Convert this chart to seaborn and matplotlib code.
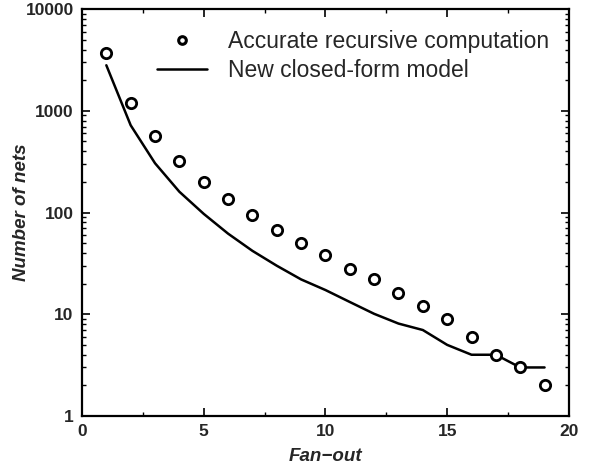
import matplotlib
matplotlib.use("Agg")
import matplotlib.pyplot as plt
import seaborn as sns
import numpy as np
import pandas as pd
from matplotlib.ticker import MultipleLocator, LogLocator, NullFormatter, FixedLocator, FixedFormatter
from matplotlib.lines import Line2D

fanout = [1, 2, 3, 4, 5, 6, 7, 8, 9, 10, 11, 12, 13, 14, 15, 16, 17, 18, 19]
accurate = [3700, 1200, 565, 320, 200, 135, 94, 68, 50, 38, 28, 22, 16, 12, 9, 6, 4, 3, 2]
model = [2800, 720, 305, 160, 97, 62, 42, 30, 22, 17.3, 13.2, 10.1, 8.1, 7, 5, 4, 4, 3, 3]
yticks = [1, 10, 100, 1000, 10000]
ytick_labels = ["1", "10", "100", "1000", "10000"]
xticks = [0, 5, 10, 15, 20]

df = pd.DataFrame({"fanout": fanout, "accurate": accurate, "model": model})

sns.set_style("ticks")
plt.rcParams["font.family"] = ["Liberation Sans", "DejaVu Sans"]

fig = plt.figure(figsize=(5.92, 4.67), dpi=100)
ax = fig.add_axes([0.1385, 0.1092, 0.8225, 0.8715])

sns.lineplot(data=df, x="fanout", y="model", ax=ax, color="black", linewidth=1.8)
sns.scatterplot(data=df, x="fanout", y="accurate", ax=ax, marker="o", s=55,
                facecolor="white", edgecolor="black", linewidth=2.0, zorder=3)

ax.set_yscale("log")
ax.set_xlim(0, 20)
ax.set_ylim(1, 10000)

ax.xaxis.set_major_locator(FixedLocator(xticks))
ax.xaxis.set_minor_locator(MultipleLocator(2.5))
ax.yaxis.set_major_locator(FixedLocator(yticks))
ax.yaxis.set_major_formatter(FixedFormatter(ytick_labels))
ax.yaxis.set_minor_locator(LogLocator(base=10, subs=np.arange(2, 10)))
ax.yaxis.set_minor_formatter(NullFormatter())

ax.tick_params(which="both", direction="in", top=True, right=True, color="black")
ax.tick_params(which="major", length=6, width=1.2, labelsize=12.5, pad=6)
ax.tick_params(which="minor", length=3, width=1.0)
for lab in ax.get_xticklabels() + ax.get_yticklabels():
    lab.set_fontweight("bold")
for sp in ax.spines.values():
    sp.set_linewidth(1.6)
    sp.set_color("black")

ax.set_xlabel("Fan\u2212out", fontsize=13.5, fontweight="bold", fontstyle="italic", labelpad=6)
ax.set_ylabel("Number of nets", fontsize=13.5, fontweight="bold", fontstyle="italic", labelpad=-3)

handles = [
    Line2D([], [], marker="o", linestyle="none", markersize=5.5, markerfacecolor="white",
           markeredgecolor="black", markeredgewidth=2.2),
    Line2D([], [], color="black", linewidth=1.8),
]
leg = ax.legend(handles, ["Accurate recursive computation", "New closed-form model"],
                loc="upper left", bbox_to_anchor=(0.154, 0.948), frameon=False,
                prop={"family": ["Liberation Sans"], "size": 16.5},
                handlelength=2.2, handletextpad=0.9, labelspacing=0.25,
                borderpad=0.0, borderaxespad=0.0)

fig.savefig("out.png", dpi=100)
